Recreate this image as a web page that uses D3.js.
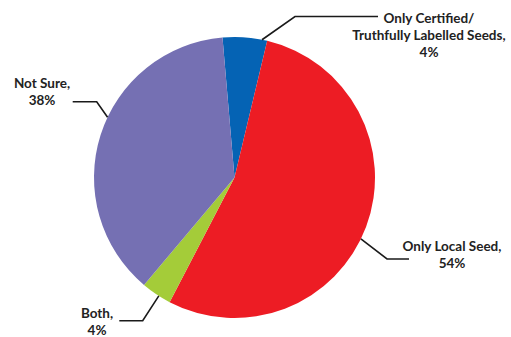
<!DOCTYPE html>
<html>
<head>
<meta charset="utf-8">
<script src="https://cdn.jsdelivr.net/npm/d3@7"></script>
<style>
  body { margin: 0; background: #fff; }
  svg { display: block; }
  .lbl { font-family: Lato, "Open Sans", sans-serif; font-weight: bold; font-size: 13.5px; fill: #222; }
</style>
</head>
<body>
<svg width="511" height="337"></svg>
<script>
// data (slice sizes) and the printed labels
var categories = ["Only Certified/ Truthfully Labelled Seeds", "Only Local Seed", "Both", "Not Sure"];
var values = [5.1, 53.9, 3.5, 37.5];
var pctLabels = ["4%", "54%", "4%", "38%"];
var nameLines = [["Only Certified/", "Truthfully Labelled Seeds,"], ["Only Local Seed,"], ["Both,"], ["Not Sure,"]];
var colors = ["#0563b4", "#ed1c24", "#a4cc39", "#7570b3"];

var width = 511, height = 337;
var cx = 234.5, cy = 177.5, radius = 140.5;
var deg = Math.PI / 180;

var svg = d3.select("svg");
var g = svg.append("g").attr("transform", `translate(${cx},${cy})`);

var pie = d3.pie()
  .sort(null)
  .value(d => d)
  .startAngle(-4.9 * deg)
  .endAngle(360 * deg - 4.9 * deg);

var arc = d3.arc().innerRadius(0).outerRadius(radius);

var arcs = pie(values);

g.selectAll("path.slice")
  .data(arcs)
  .enter()
  .append("path")
  .attr("class", "slice")
  .attr("d", arc)
  .attr("fill", (d, i) => colors[i]);

// label layout: where the leader leaves the pie, its elbow, its end, and where the text sits
var layout = [
  { angle: 11.3, elbow: [295, 16.5], end: [378, 16.5], tx: 429, ty: 23.3 },
  { angle: 115.9, elbow: [387, 259], end: [409, 259], tx: 452, ty: 250.7 },
  { angle: 212.6, elbow: [142.7, 320.7], end: [119.3, 320.7], tx: 97, ty: 317.7 },
  { angle: 295.4, elbow: [96.7, 101.7], end: [72.7, 101.7], tx: 42, ty: 88.3 }
];
var lineHeight = 16.8;

arcs.forEach(function (a, i) {
  var L = layout[i];
  var ang = L.angle * deg;
  var start = [cx + radius * Math.sin(ang), cy - radius * Math.cos(ang)];
  svg.append("path")
    .attr("d", d3.line()([start, L.elbow, L.end]))
    .attr("fill", "none")
    .attr("stroke", "#1a1a1a")
    .attr("stroke-width", 1.6);

  var lines = nameLines[i].concat([pctLabels[i]]);
  var t = svg.append("text")
    .attr("class", "lbl")
    .attr("text-anchor", "middle");
  lines.forEach(function (s, k) {
    t.append("tspan")
      .attr("x", L.tx)
      .attr("y", L.ty + k * lineHeight)
      .text(s);
  });
});
</script>
</body>
</html>
